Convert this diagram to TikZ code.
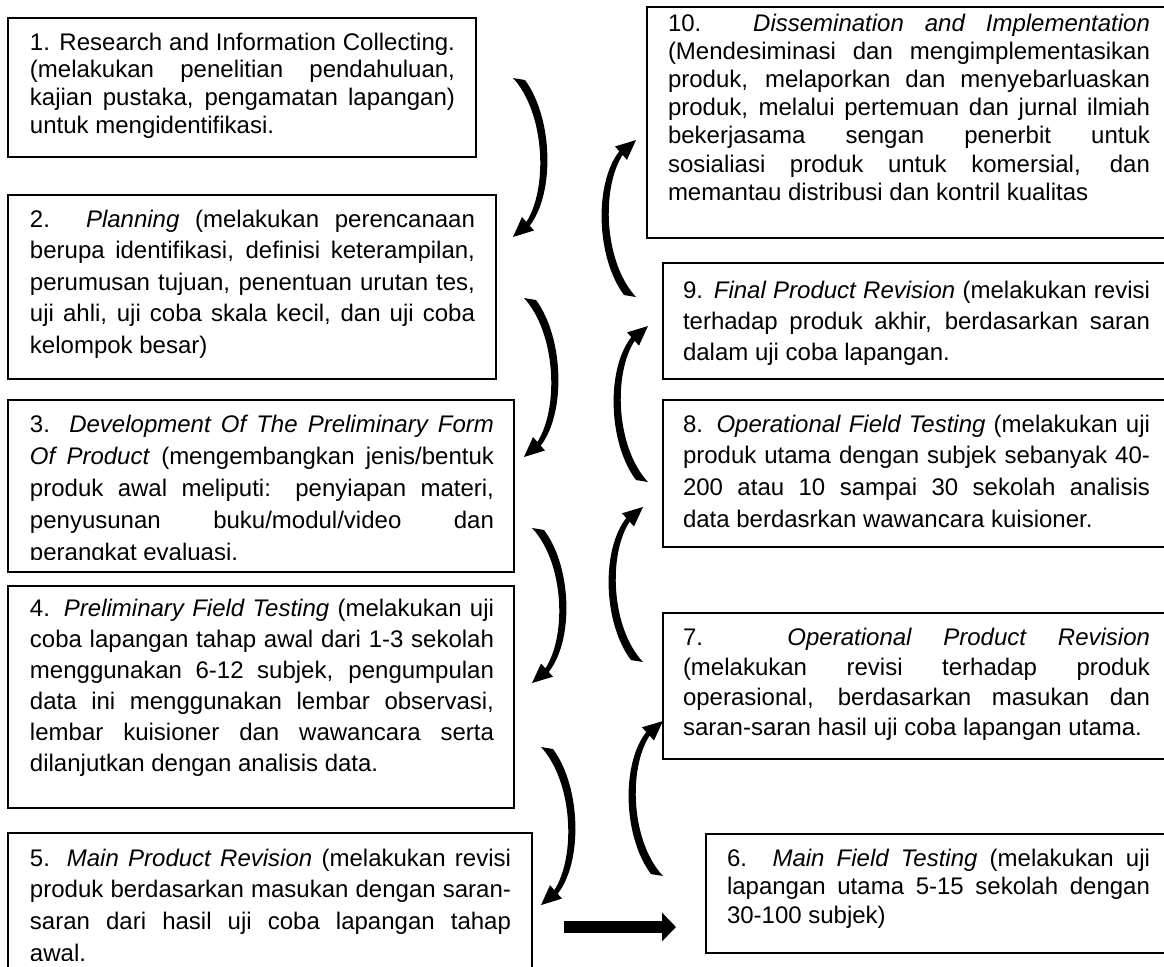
\documentclass[tikz,border=0pt]{standalone}
\usepackage{fontspec}
\setmainfont{Liberation Sans}
\usetikzlibrary{arrows.meta}
\newcommand\JL[1]{\makebox[\linewidth][s]{#1}}
\newcommand\boxfont[1]{\fontsize{12pt}{#1pt}\selectfont}
\begin{document}
\begin{tikzpicture}[x=0.5pt,y=-0.5pt,
  box/.style={draw, line width=0.8pt, anchor=north west, inner sep=0pt, outer sep=0pt},
  txt/.style={anchor=base west, inner sep=0pt, outer sep=0pt},
  bigarrow/.style={line width=6pt, -{Triangle[length=7pt,width=14pt]}},
  crescent/.pic={\fill (0,0) -- (12,2) .. controls (40,40) and (42,115) .. (16.7,147.7)
      -- (21,152.5) -- (0,159) -- (9,139) -- (13.4,143.9)
      .. controls (35,110) and (32,35) .. (0,0) -- cycle;}]
\useasboundingbox (0,0) rectangle (1164,966);
\clip (0,0) rectangle (1164,966);

% ---------- boxes ----------
\node[box, minimum width=234pt, minimum height=69.5pt] (b1) at (8,18) {};
\node[box, minimum width=244pt, minimum height=92pt] (b2) at (8,195) {};
\node[box, minimum width=253pt, minimum height=86pt] (b3) at (8,400) {};
\node[box, minimum width=253pt, minimum height=111pt] (b4) at (8,586) {};
\node[box, minimum width=262pt, minimum height=83.5pt] (b5) at (8,833) {};
\node[box, minimum width=266.5pt, minimum height=115.5pt] (b10) at (647,7) {};
\node[box, minimum width=258.5pt, minimum height=58pt] (b9) at (663,263) {};
\node[box, minimum width=258.5pt, minimum height=73.5pt] (b8) at (663,400) {};
\node[box, minimum width=258.5pt, minimum height=73pt] (b7) at (663,613) {};
\node[box, minimum width=237pt, minimum height=59.5pt] (b6) at (706,834) {};

% ---------- texts ----------
\node[txt] (t1) at (30,50) {\parbox[t]{212.5pt}{\boxfont{13.85}%
\JL{1. Research and Information Collecting.}\\
\JL{(melakukan penelitian pendahuluan,}\\
\JL{kajian pustaka, pengamatan lapangan)}\\
untuk mengidentifikasi.}};

\node[txt] (t2) at (30,227) {\parbox[t]{222.5pt}{\boxfont{15.75}%
\JL{2. \textit{Planning} (melakukan perencanaan}\\
\JL{berupa identifikasi, definisi keterampilan,}\\
\JL{perumusan tujuan, penentuan urutan tes,}\\
\JL{uji ahli, uji coba skala kecil, dan uji coba}\\
kelompok besar)}};

\begin{scope}
\clip (0,400) rectangle (600,559);
\node[txt] (t3) at (30,432) {\parbox[t]{232pt}{\boxfont{16}%
\JL{3. \textit{Development Of The Preliminary Form}}\\
\JL{\textit{Of Product} (mengembangkan jenis/bentuk}\\
\JL{produk awal meliputi: penyiapan materi,}\\
\JL{penyusunan buku/modul/video dan}\\
perangkat evaluasi.}};
\end{scope}

\node[txt] (t4) at (30,616) {\parbox[t]{232pt}{\boxfont{15.5}%
\JL{4. \textit{Preliminary Field Testing} (melakukan uji}\\
\JL{coba lapangan tahap awal dari 1-3 sekolah}\\
\JL{menggunakan 6-12 subjek, pengumpulan}\\
\JL{data ini menggunakan lembar observasi,}\\
\JL{lembar kuisioner dan wawancara serta}\\
dilanjutkan dengan analisis data.}};

\begin{scope}
\clip (0,833) rectangle (600,960);
\node[txt] (t5) at (30,866) {\parbox[t]{240.5pt}{\boxfont{15.85}%
\JL{5. \textit{Main Product Revision} (melakukan revisi}\\
\JL{produk berdasarkan masukan dengan saran-}\\
\JL{saran dari hasil uji coba lapangan tahap}\\
awal.}};
\end{scope}

\node[txt] (t10) at (668,31) {\parbox[t]{241pt}{\boxfont{14.1}%
\JL{10. \textit{Dissemination and Implementation}}\\
\JL{(Mendesiminasi dan mengimplementasikan}\\
\JL{produk, melaporkan dan menyebarluaskan}\\
\JL{produk, melalui pertemuan dan jurnal ilmiah}\\
\JL{bekerjasama sengan penerbit untuk}\\
\JL{sosialiasi produk untuk komersial, dan}\\
memantau distribusi dan kontril kualitas}};

\node[txt] (t9) at (683,298) {\parbox[t]{233.5pt}{\boxfont{15.5}%
\JL{9. \textit{Final Product Revision} (melakukan revisi}\\
\JL{terhadap produk akhir, berdasarkan saran}\\
dalam uji coba lapangan.}};

\node[txt] (t8) at (683,432) {\parbox[t]{233.5pt}{\boxfont{15.85}%
\JL{8. \textit{Operational Field Testing} (melakukan uji}\\
\JL{produk utama dengan subjek sebanyak 40-}\\
\JL{200 atau 10 sampai 30 sekolah analisis}\\
data berdasrkan wawancara kuisioner.}};

\node[txt] (t7) at (683,645) {\parbox[t]{233.5pt}{\boxfont{15.15}%
\JL{7. \textit{Operational Product Revision}}\\
\JL{(melakukan revisi terhadap produk}\\
\JL{operasional, berdasarkan masukan dan}\\
saran-saran hasil uji coba lapangan utama.}};

\node[txt] (t6) at (727,866) {\parbox[t]{211.5pt}{\boxfont{14.25}%
\JL{6. \textit{Main Field Testing} (melakukan uji}\\
\JL{lapangan utama 5-15 sekolah dengan}\\
30-100 subjek)}};

% ---------- arrow anchor points (tails) ----------
\coordinate (a1s) at (513,78);
\coordinate (a2s) at (524,298);
\coordinate (a3s) at (532,528);
\coordinate (a4s) at (541,747);
\coordinate (a5s) at (564,927); \coordinate (a5e) at (676,927);
\coordinate (a6s) at (663,876);
\coordinate (a7s) at (643,662);
\coordinate (a8s) at (648,482);
\coordinate (a9s) at (636,297);

% ---------- curved arrows (left column: downward) ----------
\pic at (a1s) {crescent};
\pic at (a2s) {crescent};
\pic[yscale=0.975] at (a3s) {crescent};
\pic[yscale=0.994] at (a4s) {crescent};
% ---------- straight arrow ----------
\draw[bigarrow] (a5s) -- (a5e);
% ---------- curved arrows (right column: upward) ----------
\pic[rotate=180, yscale=0.975] at (a6s) {crescent};
\pic[rotate=180, yscale=0.975] at (a7s) {crescent};
\pic[rotate=180, yscale=0.981] at (a8s) {crescent};
\pic[rotate=180, yscale=0.987] at (a9s) {crescent};
\end{tikzpicture}
\end{document}
